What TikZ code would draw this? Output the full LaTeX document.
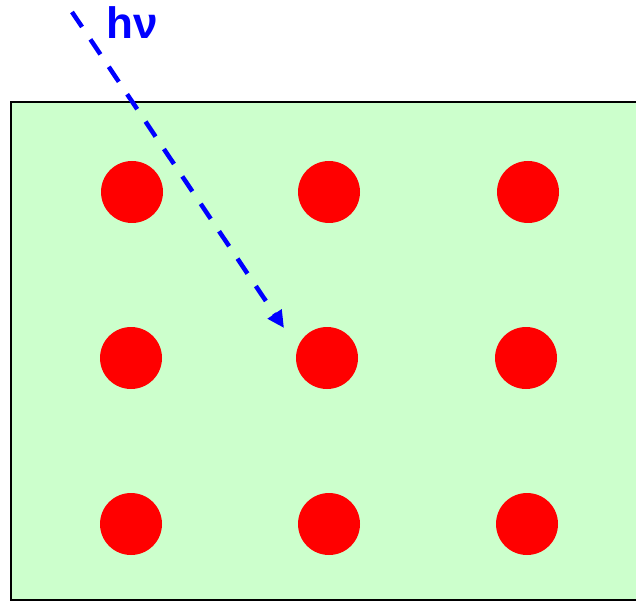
\documentclass[tikz,border=0pt]{standalone}
\usepackage{fontspec}
\setmainfont{Liberation Sans}
\usetikzlibrary{arrows.meta}
\definecolor{bggreen}{HTML}{CCFFCC}
\definecolor{dotred}{HTML}{FF0000}
\definecolor{rayblue}{HTML}{0000FF}
\tikzset{
  dot/.style={circle, fill=dotred, draw=none, minimum size=62pt, inner sep=0pt},
  ray/.style={rayblue, line width=4.5pt, dash pattern=on 18pt off 15pt, -{Triangle[length=17pt,width=16pt]}},
  lbl/.style={text=rayblue, font=\fontsize{44}{48}\selectfont\bfseries, inner sep=0pt}
}
\begin{document}
\begin{tikzpicture}[x=1pt,y=-1pt]
\useasboundingbox (0,0) rectangle (636,601);
\path[fill=bggreen, draw=black, line width=2pt] (11,102) rectangle (650,599.5);
\node[dot] (a1) at (132,192) {};
\node[dot] (a2) at (329,192) {};
\node[dot] (a3) at (528,192) {};
\node[dot] (b1) at (131,358) {};
\node[dot] (b2) at (327,358) {};
\node[dot] (b3) at (526,358) {};
\node[dot] (c1) at (131,524) {};
\node[dot] (c2) at (329,524) {};
\node[dot] (c3) at (527,524) {};
\coordinate (rs) at (72,12);
\coordinate (re) at (284,328);
\draw[ray] (rs) -- (re);
\node[lbl, anchor=base west] (hv) at (106,39) {hν};
\end{tikzpicture}
\end{document}
